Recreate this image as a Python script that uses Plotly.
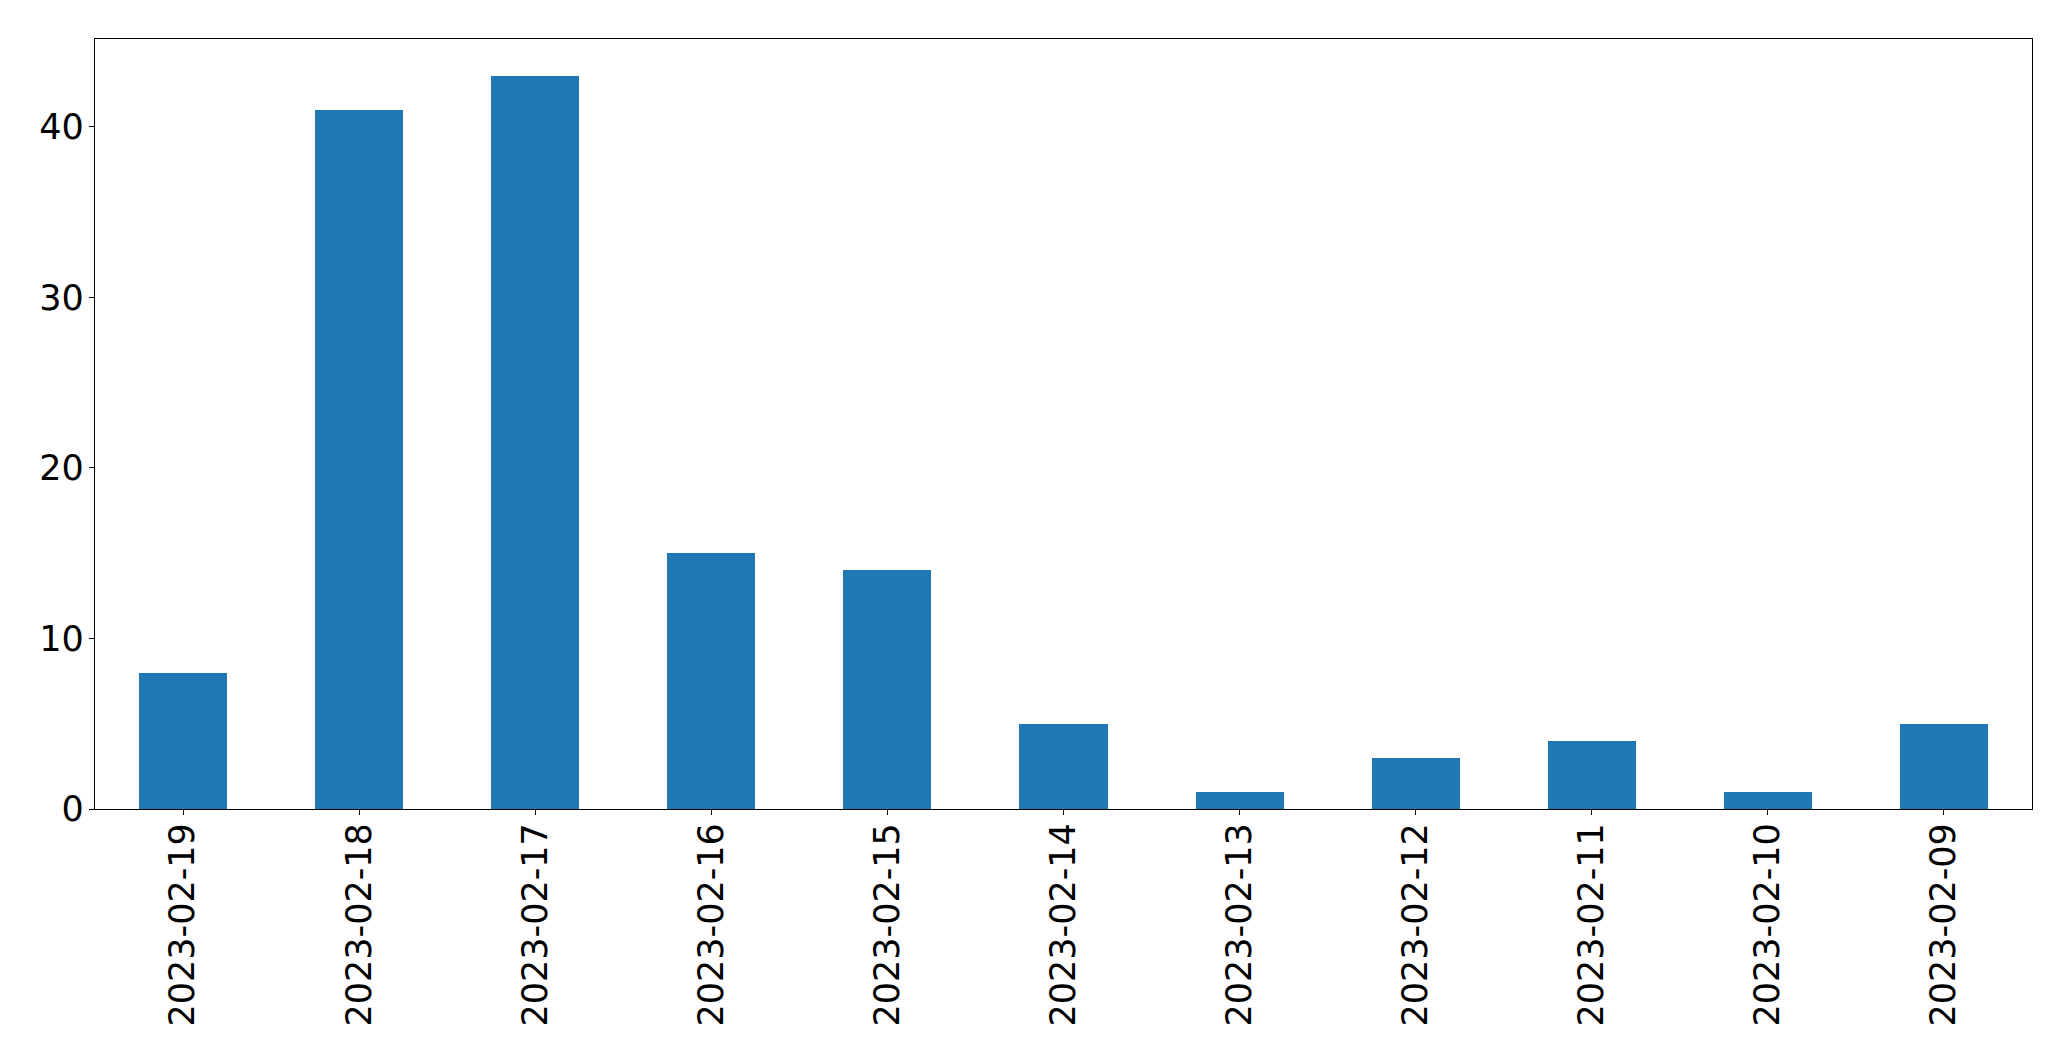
import plotly.graph_objects as go

dates = ["2023-02-19", "2023-02-18", "2023-02-17", "2023-02-16", "2023-02-15",
         "2023-02-14", "2023-02-13", "2023-02-12", "2023-02-11", "2023-02-10", "2023-02-09"]
counts = [8, 41, 43, 15, 14, 5, 1, 3, 4, 1, 5]
y_ticks = [0, 10, 20, 30, 40]

fig = go.Figure(go.Bar(x=dates, y=counts, width=0.5, marker=dict(color="#1f77b4", line=dict(width=0))))

# page body has an 8px margin; compensate so plot area lands at the reference pixels
W, H = 2063, 1053
fig.update_layout(
    width=W, height=H, autosize=False,
    margin=dict(l=87, r=39, t=31, b=252, pad=0),
    plot_bgcolor="white", paper_bgcolor="white",
    font=dict(family="DejaVu Sans", color="black", size=35),
    showlegend=False, bargap=0,
)
fig.update_xaxes(
    type="category", range=[-0.5, len(dates) - 0.5],
    showline=True, linecolor="black", linewidth=1.3, mirror=True,
    ticks="outside", ticklen=5, tickwidth=1.3, tickcolor="black",
    tickangle=-90, showgrid=False, tickfont=dict(size=35),
    ticklabelstandoff=-6,
)
fig.update_yaxes(
    range=[0, 45.15], tickvals=y_ticks,
    showline=True, linecolor="black", linewidth=1.3, mirror=True,
    ticks="outside", ticklen=5, tickwidth=1.3, tickcolor="black",
    showgrid=False, zeroline=False, tickfont=dict(size=35),
    ticklabelstandoff=-2,
)
fig.write_html("out.html")
